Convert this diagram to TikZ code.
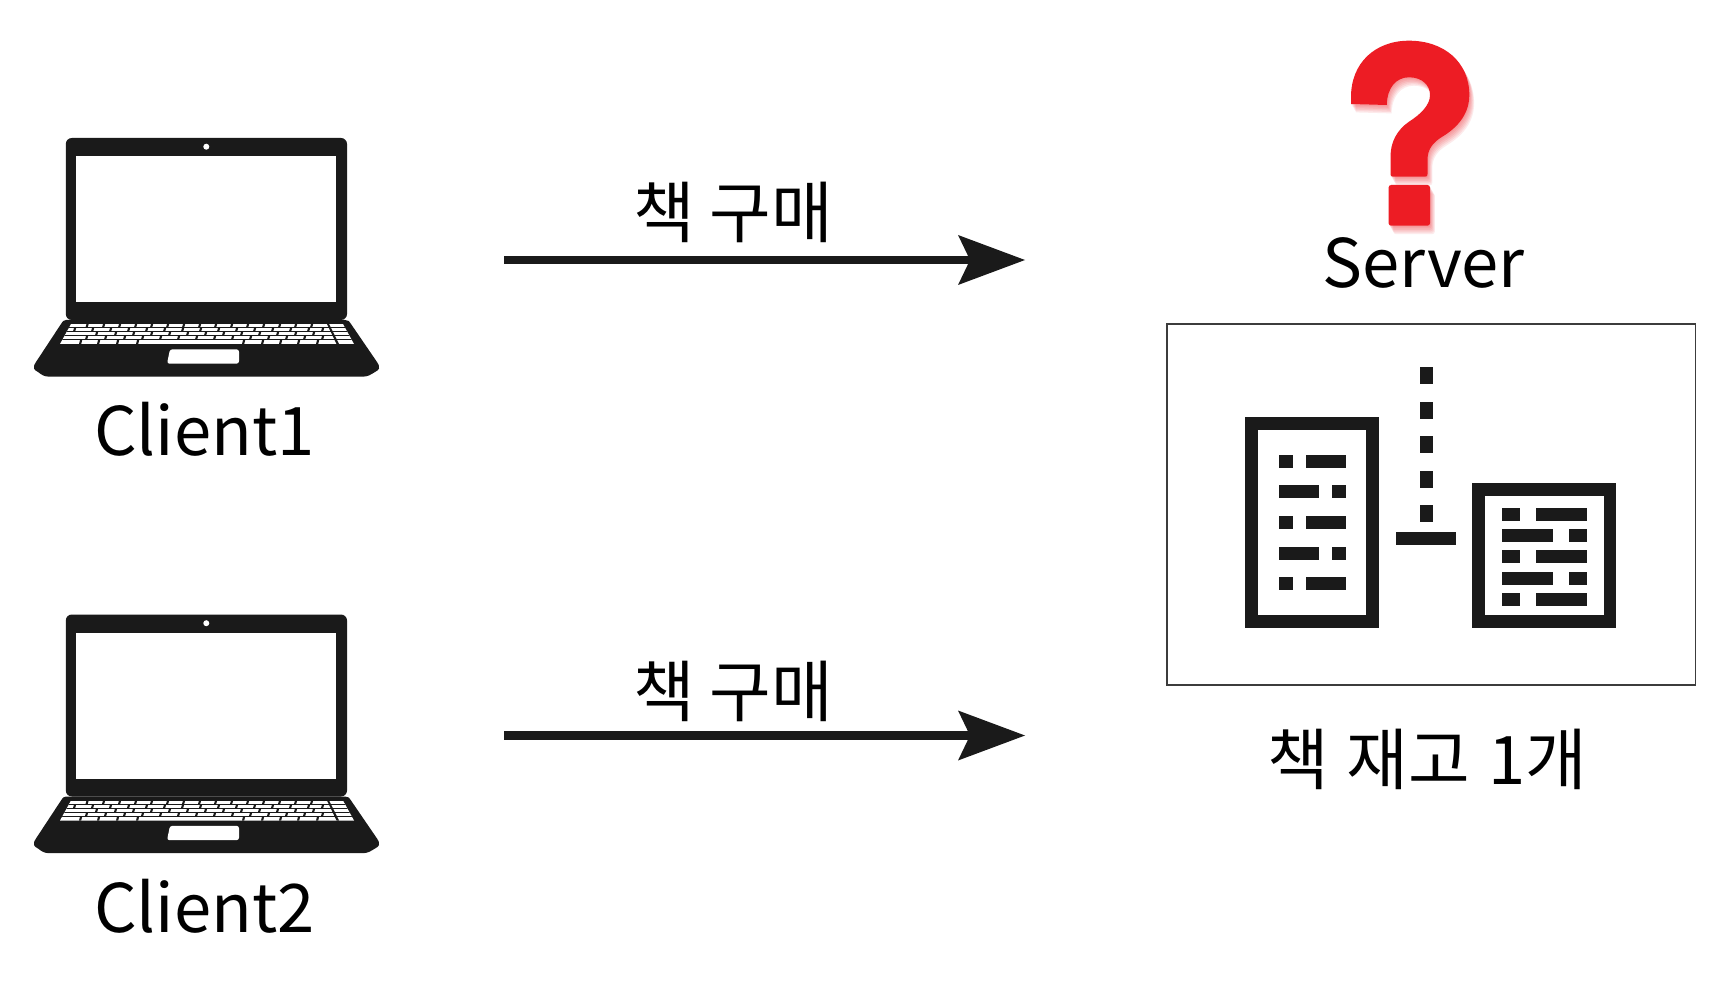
\documentclass[tikz,border=0pt]{standalone}
\usepackage{fontspec}
\setmainfont{Noto Sans CJK KR}
\usetikzlibrary{arrows.meta}
\definecolor{ink}{HTML}{1A1A1A}
\definecolor{qred}{HTML}{ED1C24}
\tikzset{
  label text/.style={inner sep=0pt,outer sep=0pt,text=black,font=\fontsize{67}{80}\selectfont,anchor=base},
  flow/.style={ink,line width=8.5pt,-{Stealth[length=67pt,width=50pt,inset=12pt,line width=0pt]}},
  laptop/.pic={
    % lid
    \fill[ink,rounded corners=6pt] (65.8,138) rectangle (347,320);
    \fill[white] (75.7,156) rectangle (336.3,302);
    \fill[white] (206.3,146.7) circle (3);
    % base
    \fill[ink] (66,320) -- (345,320) .. controls (348,320) and (349,321) .. (351,324)
      -- (377,362) .. controls (381,368) and (379,370) .. (375,372)
      .. controls (370,375) and (368,376.7) .. (362,376.7) -- (50,376.7)
      .. controls (44,376.7) and (42,375) .. (38,372)
      .. controls (34,370) and (32,368) .. (36,362) -- (61,324) .. controls (63,321) and (64,320) .. (66,320) -- cycle;
    % keyboard
    \begin{scope}
      \clip (71,324) -- (343,324) -- (354,344) -- (60,344) -- cycle;
      \fill[white] (55,324) rectangle (358,344);
      \foreach \r in {0,1,2,3}
        \fill[ink] (55,327.1+4*\r) rectangle (358,328.1+4*\r);
      \foreach \x in {86.5,103,119,135,151,167,183,199,215,231,247,263,279,295,311}
        \fill[ink] (\x,324) -- (\x+2.2,324) -- (\x+1.2,327.5) -- (\x-1,327.5) -- cycle;
      \foreach \x in {74,92,110,128,146,164,182,200,218,236,254,272,290,308,322}
        \fill[ink] (\x,328) -- (\x+2.2,328) -- (\x+1.2,331.5) -- (\x-1,331.5) -- cycle;
      \foreach \x in {96,115,133,151,169,187,205,223,241,259,277,295,313}
        \fill[ink] (\x,332) -- (\x+2.2,332) -- (\x+1.2,335.5) -- (\x-1,335.5) -- cycle;
      \foreach \x in {86,105,124,142,160,178,196,214,232,250,268,286,304,322}
        \fill[ink] (\x,336) -- (\x+2.2,336) -- (\x+1.2,339.5) -- (\x-1,339.5) -- cycle;
      \foreach \x in {80,98,117,137,243,262,280,298,317}
        \fill[ink] (\x,340) -- (\x+2.2,340) -- (\x+1.2,344) -- (\x-1,344) -- cycle;
      \fill[ink] (327,324) -- (329,324) -- (339,344) -- (336.5,344) -- cycle;
    \end{scope}
    % touchpad
    \fill[white,rounded corners=2.5pt] (170,349.3) -- (239,349.3) -- (239,363.7) -- (167,363.7) -- cycle;
  },
  qmark/.pic={
    \path[pic actions] (1351,104) -- (1386.8,105)
      .. controls (1387,88) and (1396,77.3) .. (1409,77.3)
      .. controls (1422,77.3) and (1430,85) .. (1430,95)
      .. controls (1430,105) and (1421,114) .. (1409,121.7)
      .. controls (1397,130) and (1390.5,142) .. (1390.5,156.7)
      -- (1390.5,174) .. controls (1390.5,176) and (1391,176.7) .. (1393,176.7)
      -- (1425,176.7) .. controls (1427,176.7) and (1427.5,176) .. (1427.5,174)
      -- (1427.5,160) .. controls (1427.5,150) and (1432,143) .. (1442.3,136.7)
      .. controls (1460,126) and (1469.3,112) .. (1469.3,95)
      .. controls (1469.3,62) and (1444,40.7) .. (1409,40.7)
      .. controls (1375,40.7) and (1351,63) .. (1351,97) -- cycle;
    \path[pic actions,rounded corners=2.5pt] (1388.6,185) rectangle (1430,225.7);
  }
}
\begin{document}
\begin{tikzpicture}[x=1pt,y=-1pt]
  \useasboundingbox (0,0) rectangle (1730,992);
  \fill[white] (0,0) rectangle (1730,992);

  % clients
  \pic (laptopa) {laptop};
  \pic[yshift=-476.5pt] (laptopb) {laptop};
  \node[label text] (client1) at (204.5,455.5) {Client1};
  \node[label text] (client2) at (204.5,932) {Client2};

  % arrows
  \coordinate (a1from) at (504,260);
  \coordinate (a1to) at (1025,260);
  \coordinate (a2from) at (504,735.5);
  \coordinate (a2to) at (1025,735.5);
  \draw[flow] (a1from) -- (a1to);
  \draw[flow] (a2from) -- (a2to);
  \node[label text] (buy1) at (733,238) {책 구매};
  \node[label text] (buy2) at (733,716) {책 구매};

  % question mark with soft shadow
  \foreach \d in {1,2,3,4,5,6}
    \pic[xshift=0.8*\d pt,yshift=-1.4*\d pt,fill=qred,fill opacity=0.09] (qs\d) {qmark};
  \pic[fill=qred] (qm) {qmark};
  \node[label text] (server) at (1423.5,288) {Server};

  % stock box
  \draw[draw=ink!85,line width=1.6pt] (1166.8,324) rectangle (1695.5,685);

  % left building
  \fill[ink] (1245.4,417.3) rectangle (1379.4,627.7);
  \fill[white] (1258,430) rectangle (1366.4,614.7);
  \foreach \y in {454.7,516,577} {
    \fill[ink] (1278.7,\y) rectangle (1293.2,\y+13);
    \fill[ink] (1305.8,\y) rectangle (1346,\y+13);
  }
  \foreach \y in {485.3,546.7} {
    \fill[ink] (1278.7,\y) rectangle (1319,\y+13);
    \fill[ink] (1331.6,\y) rectangle (1346,\y+13);
  }
  % dashes and base
  \foreach \y in {367,401.5,436,470.5,505.3}
    \fill[ink] (1420,\y) rectangle (1433,\y+17);
  \fill[ink] (1396,532.3) rectangle (1455.6,545.3);
  % right building
  \fill[ink] (1472.2,483.3) rectangle (1616,627.7);
  \fill[white] (1485.2,496) rectangle (1604,614.7);
  \foreach \y in {507.7,550.3,592.7} {
    \fill[ink] (1502.2,\y) rectangle (1520,\y+13);
    \fill[ink] (1536.2,\y) rectangle (1587,\y+13);
  }
  \foreach \y in {529,571.7} {
    \fill[ink] (1502.2,\y) rectangle (1553,\y+13);
    \fill[ink] (1569.2,\y) rectangle (1587,\y+13);
  }
  \node[label text] (stock) at (1427,784) {책 \hspace{3pt}재고 \hspace{3pt}1개};
\end{tikzpicture}
\end{document}
